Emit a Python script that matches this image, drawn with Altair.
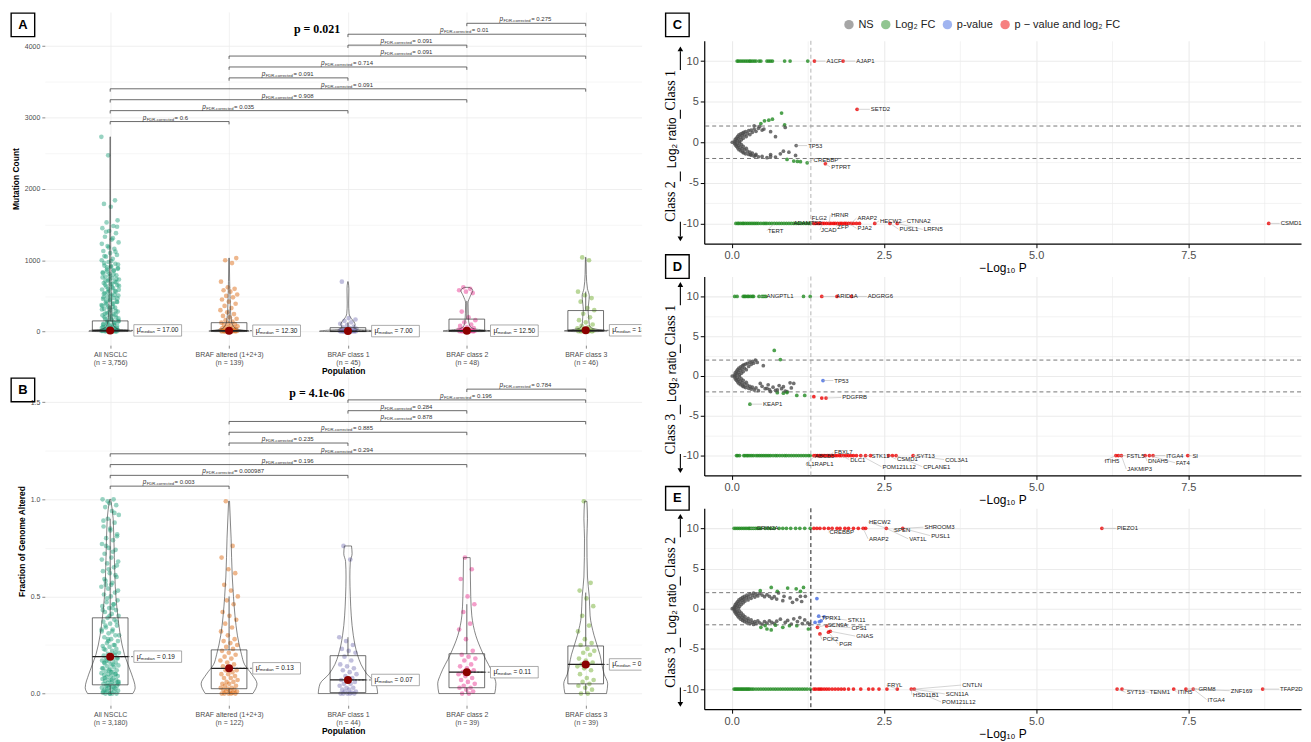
import altair as alt
import pandas as pd

# ======================= shared categories =======================
GROUPS = ["All NSCLC", "BRAF altered (1+2+3)", "BRAF class 1", "BRAF class 2", "BRAF class 3"]
GROUP_COLORS = ["#1B9E77", "#D95F02", "#7570B3", "#E7298A", "#66A61E"]
PAIRS = [(0, 1), (0, 2), (0, 3), (0, 4), (1, 2), (1, 3), (1, 4), (2, 3), (2, 4), (3, 4)]

# ======================= Panel A : mutation count =======================
A_N = ["(n = 3,756)", "(n = 139)", "(n = 45)", "(n = 48)", "(n = 46)"]
A_P = ["0.6", "0.035", "0.908", "0.091", "0.091", "0.714", "0.091", "0.091", "0.01", "0.275"]
A_MED_TXT = ["17.00", "12.30", "7.00", "12.50", "18.50"]
A_Q1 = [3, 2, 1, 2, 4]
A_MED = [17, 12.5, 7, 12.5, 18.5]
A_Q3 = [150, 125, 55, 175, 295]
A_WLO = [0, 0, 0, 0, 0]
A_WHI = [370, 310, 130, 430, 560]
A_ALL = [0, 1, 3, 5, 8, 12, 15, 19, 24, 30, 36, 45, 52, 60, 71, 80, 95, 108, 120, 135, 150, 162, 178,
         195, 210, 228, 245, 260, 280, 300, 318, 335, 350, 372, 390, 405, 420, 440, 458, 470, 490, 505,
         520, 540, 560, 575, 590, 610, 630, 650, 665, 680, 700, 715, 730, 750, 770, 790, 810, 830, 850,
         870, 890, 905, 925, 950, 975, 1000, 1020, 1050, 1075, 1100, 1130, 1160, 1200, 1250, 1290, 1330,
         1380, 1410, 1450, 1480, 1530, 1560, 1750, 1790, 1840, 2470, 2730, 6, 14, 22, 40, 65, 90, 115,
         140, 170, 200, 235, 270, 310, 345, 380, 415, 450, 480, 515, 550, 585, 620, 655, 690, 725, 760,
         800, 840, 880, 920, 960, 2, 4, 10, 18, 28, 50, 75, 100, 125, 155, 185, 220, 250, 290, 325, 360,
         395, 430, 465, 500, 530, 570, 600, 640, 670, 710, 740, 780, 820, 860, 900, 940, 990, 1060, 1120,
         1180, 1230, 1310, 1400, 1470]
A_ALT = [0, 0, 1, 2, 3, 5, 6, 8, 10, 12, 14, 17, 20, 25, 30, 35, 42, 50, 58, 65, 75, 85, 95, 105, 115,
         125, 140, 160, 180, 200, 220, 245, 270, 300, 330, 360, 390, 420, 450, 480, 500, 520, 560, 580,
         600, 620, 700, 960, 1000, 1030]
A_C1 = [0, 0, 1, 2, 3, 4, 5, 6, 7, 8, 9, 10, 12, 14, 16, 18, 20, 25, 30, 35, 40, 50, 60, 70, 90, 110,
        130, 150, 170, 190, 700]
A_C2 = [0, 1, 2, 3, 5, 7, 9, 11, 12.5, 14, 17, 20, 25, 30, 40, 50, 60, 80, 100, 130, 160, 200, 280,
        540, 560, 580, 600, 620]
A_C3 = [0, 1, 2, 4, 6, 9, 12, 15, 18.5, 22, 28, 35, 45, 60, 80, 100, 130, 160, 200, 250, 300, 330, 420,
        470, 510, 560, 1000, 1040]
# violin outlines: [level, half width in group units]
A_VIO = [
    [[0, 0.10], [5, 0.18], [15, 0.17], [30, 0.08], [60, 0.04], [100, 0.025], [200, 0.015], [400, 0.01],
     [700, 0.007], [1000, 0.005], [1500, 0.003], [2000, 0.002], [2730, 0.001]],
    [[0, 0.12], [8, 0.17], [20, 0.12], [40, 0.06], [80, 0.035], [150, 0.02], [300, 0.012], [500, 0.008],
     [700, 0.005], [1030, 0.002]],
    [[0, 0.15], [5, 0.24], [15, 0.2], [30, 0.08], [60, 0.05], [100, 0.06], [140, 0.05], [180, 0.03],
     [250, 0.01], [400, 0.006], [600, 0.008], [700, 0.002]],
    [[0, 0.12], [8, 0.2], [20, 0.15], [40, 0.06], [80, 0.025], [150, 0.015], [250, 0.012], [400, 0.01],
     [500, 0.03], [580, 0.05], [620, 0.02]],
    [[0, 0.1], [10, 0.18], [25, 0.12], [50, 0.05], [100, 0.03], [200, 0.025], [300, 0.02], [400, 0.025],
     [500, 0.03], [600, 0.015], [800, 0.005], [1040, 0.002]],
]

# ======================= Panel B : fraction of genome altered =======================
B_N = ["(n = 3,180)", "(n = 122)", "(n = 44)", "(n = 39)", "(n = 39)"]
B_P = ["0.003", "0.000987", "0.196", "0.294", "0.235", "0.885", "0.878", "0.284", "0.196", "0.784"]
B_MED_TXT = ["0.19", "0.13", "0.07", "0.11", "0.15"]
B_Q1 = [0.045, 0.025, 0.005, 0.03, 0.05]
B_MED = [0.19, 0.13, 0.07, 0.11, 0.15]
B_Q3 = [0.39, 0.225, 0.195, 0.205, 0.245]
B_WLO = [0, 0, 0, 0, 0]
B_WHI = [0.9, 0.5, 0.29, 0.46, 0.52]
B_ALL = [0, 0, 0, 0, 0.005, 0.01, 0.01, 0.015, 0.02, 0.02, 0.025, 0.03, 0.03, 0.035, 0.04, 0.04, 0.045,
         0.05, 0.05, 0.055, 0.06, 0.06, 0.065, 0.07, 0.07, 0.075, 0.08, 0.085, 0.09, 0.09, 0.095, 0.1, 0.1,
         0.105, 0.11, 0.115, 0.12, 0.125, 0.13, 0.135, 0.14, 0.145, 0.15, 0.155, 0.16, 0.165, 0.17, 0.175,
         0.18, 0.185, 0.19, 0.195, 0.2, 0.205, 0.21, 0.22, 0.225, 0.23, 0.24, 0.245, 0.25, 0.26, 0.27, 0.28,
         0.29, 0.3, 0.31, 0.32, 0.33, 0.34, 0.35, 0.36, 0.37, 0.38, 0.39, 0.4, 0.41, 0.42, 0.43, 0.44, 0.45,
         0.46, 0.47, 0.48, 0.5, 0.51, 0.52, 0.54, 0.55, 0.57, 0.58, 0.6, 0.62, 0.63, 0.65, 0.67, 0.68, 0.7,
         0.72, 0.74, 0.75, 0.77, 0.79, 0.8, 0.82, 0.84, 0.86, 0.88, 0.9, 0.92, 0.94, 0.96, 0.97, 0.98, 1.0,
         1.0, 0.02, 0.06, 0.11, 0.16, 0.21, 0.27, 0.33, 0.44, 0.56, 0.66, 0.0, 0.01, 0.03, 0.04, 0.05,
         0.07, 0.08, 0.1, 0.12, 0.13, 0.15, 0.17, 0.18, 0.2, 0.23, 0.25, 0.28, 0.3, 0.32, 0.35, 0.37, 0.4,
         0.43, 0.46, 0.49, 0.53, 0.56, 0.59, 0.61, 0.64, 0.69, 0.73, 0.76, 0.81, 0.85, 0.89, 0.93, 0.99]
B_ALT = [0, 0, 0, 0, 0, 0.005, 0.01, 0.01, 0.015, 0.02, 0.02, 0.025, 0.03, 0.03, 0.04, 0.04, 0.05, 0.05,
         0.06, 0.06, 0.07, 0.08, 0.08, 0.09, 0.1, 0.1, 0.11, 0.12, 0.12, 0.13, 0.14, 0.15, 0.16, 0.17, 0.18,
         0.19, 0.2, 0.21, 0.22, 0.23, 0.24, 0.25, 0.26, 0.27, 0.28, 0.3, 0.32, 0.34, 0.36, 0.38, 0.4, 0.42,
         0.46, 0.48, 0.5, 0.53, 0.56, 0.62, 0.64, 0.7, 0.76, 0.99]
B_C1 = [0, 0, 0, 0, 0, 0.005, 0.01, 0.01, 0.02, 0.02, 0.03, 0.03, 0.04, 0.05, 0.05, 0.06, 0.07, 0.07,
        0.08, 0.09, 0.1, 0.11, 0.12, 0.13, 0.14, 0.15, 0.17, 0.19, 0.21, 0.22, 0.23, 0.25, 0.27, 0.29,
        0.69, 0.76]
B_C2 = [0, 0, 0.01, 0.02, 0.03, 0.03, 0.04, 0.05, 0.06, 0.07, 0.08, 0.09, 0.1, 0.11, 0.11, 0.12, 0.13,
        0.14, 0.15, 0.17, 0.18, 0.19, 0.2, 0.22, 0.28, 0.33, 0.36, 0.42, 0.46, 0.5, 0.59, 0.64, 0.7]
B_C3 = [0, 0, 0.02, 0.03, 0.04, 0.05, 0.06, 0.07, 0.08, 0.1, 0.12, 0.13, 0.14, 0.15, 0.15, 0.16, 0.17,
        0.18, 0.2, 0.21, 0.22, 0.23, 0.25, 0.26, 0.28, 0.32, 0.35, 0.4, 0.45, 0.49, 0.53, 0.57, 0.99]
B_VIO = [
    [[0, 0.19], [0.03, 0.21], [0.1, 0.18], [0.2, 0.12], [0.3, 0.085], [0.4, 0.064], [0.5, 0.048],
     [0.7, 0.035], [0.9, 0.025], [1.0, 0.004]],
    [[0, 0.2], [0.05, 0.235], [0.1, 0.19], [0.15, 0.13], [0.2, 0.105], [0.3, 0.07], [0.4, 0.05],
     [0.5, 0.037], [0.6, 0.027], [0.8, 0.017], [0.99, 0.004]],
    [[0, 0.25], [0.05, 0.235], [0.1, 0.16], [0.15, 0.11], [0.2, 0.08], [0.3, 0.045], [0.4, 0.028],
     [0.5, 0.02], [0.6, 0.016], [0.68, 0.02], [0.72, 0.035], [0.76, 0.03]],
    [[0, 0.235], [0.05, 0.245], [0.1, 0.22], [0.2, 0.14], [0.3, 0.075], [0.4, 0.042], [0.5, 0.033],
     [0.6, 0.03], [0.7, 0.028]],
    [[0, 0.175], [0.05, 0.185], [0.1, 0.155], [0.2, 0.12], [0.3, 0.07], [0.4, 0.037], [0.5, 0.03],
     [0.6, 0.015], [0.8, 0.01], [0.9, 0.015], [0.99, 0.01]],
]

# ======================= Panels C, D, E : volcano =======================
CATS = ["NS", "Log\u2082 FC", "p-value", "p \u2212 value and log\u2082 FC"]
CAT_COLORS = ["#4D4D4D", "#228B22", "#4169E1", "#EE0000"]
FC_CUT = [-2, 2]
P_CUT = [1.30103]

C_NS = [[0.01, 0.0], [0.05, 0.12], [0.05, -0.15], [0.06, 0.35], [0.06, -0.32], [0.07, 0.02], [0.08, 0.52],
        [0.08, -0.5], [0.09, 0.2], [0.09, -0.22], [0.10, 0.72], [0.10, -0.7], [0.11, 0.42], [0.11, -0.4],
        [0.12, 0.9], [0.12, -0.92], [0.13, 0.1], [0.13, -0.08], [0.14, 0.62], [0.14, -0.6], [0.15, 1.02],
        [0.15, -1.05], [0.16, 0.3], [0.16, -0.3], [0.17, 0.82], [0.17, -0.8], [0.18, 1.12], [0.18, -1.2],
        [0.19, 0.5], [0.19, -0.52], [0.20, 1.22], [0.20, -1.32], [0.21, 0.9], [0.21, -0.92], [0.23, 1.32],
        [0.23, -1.42], [0.24, 0.7], [0.24, -0.75], [0.26, 1.05], [0.26, -1.1], [0.28, 1.42], [0.28, -1.5],
        [0.30, 0.95], [0.30, -1.22], [0.32, 1.5], [0.32, -1.6], [0.34, 1.22], [0.34, -1.35], [0.37, 1.62],
        [0.37, -1.72], [0.40, 1.35], [0.40, -1.5], [0.44, 1.72], [0.44, -1.8], [0.50, 1.5], [0.50, -1.75],
        [0.53, 1.62], [0.64, 1.3], [0.72, 0.69], [0.31, -1.51], [0.39, -1.63], [0.64, -1.51], [0.80, -1.43],
        [0.85, -1.1], [0.94, -1.22], [0.64, -1.75], [0.72, -1.83], [1.05, -1.63], [0.37, 2.03], [0.88, 1.82],
        [1.06, -0.41], [0.58, -1.9], [0.46, 1.95]]
C_FC_TOP = [0.09, 0.11, 0.14, 0.17, 0.2, 0.23, 0.26, 0.29, 0.31, 0.34, 0.37, 0.4, 0.45, 0.48, 0.58, 0.61,
            0.64, 0.67, 0.87, 0.96, 1.25]
C_FC_MID = [[0.82, 3.6], [0.48, 2.31], [0.54, 2.64], [0.61, 2.72], [0.67, 2.84], [0.87, 2.15], [0.91, -2.12],
            [1.02, -2.32], [1.08, -2.36], [1.13, -2.4], [1.24, -2.53]]
C_FC_BOT = [0.07, 0.1, 0.12, 0.15, 0.18, 0.2, 0.23, 0.26, 0.29, 0.32, 0.35, 0.38, 0.41, 0.44, 0.48, 0.52,
            0.55, 0.58, 0.62, 0.66, 0.7, 0.74, 0.78, 0.82, 0.86, 0.9, 0.94, 0.98, 1.02, 1.06, 1.1, 1.14,
            1.18, 1.22, 1.26, 1.29]
C_PV = []
C_BOTH_TOP = [1.36, 1.83]
C_BOTH_MID = [[2.06, 4.06], [1.54, -2.65]]
C_BOTH_BOT = [1.35, 1.38, 1.42, 1.45, 1.49, 1.52, 1.56, 1.6, 1.63, 1.67, 1.7, 1.74, 1.78, 1.81, 1.85, 1.88,
              1.92, 1.96, 2.0, 2.05, 2.1, 2.35, 2.6, 2.72, 8.82]
C_LABELS = [("A1CF", 1.36, 10, 1.54, 10), ("AJAP1", 1.83, 10, 2.03, 10), ("SETD2", 2.06, 4.06, 2.27, 4.06),
            ("TP53", 1.06, -0.41, 1.24, -0.41), ("CREBBP", 1.24, -2.53, 1.33, -2.15),
            ("PTPRT", 1.54, -2.65, 1.62, -3.05), ("TERT", 0.7, -10, 0.58, -10.9),
            ("ADAMTS2", 0.98, -10, 1.0, -10), ("FLG2", 1.38, -10, 1.3, -9.35), ("HRNR", 1.6, -10, 1.62, -8.95),
            ("JCAD", 1.49, -10, 1.45, -10.8), ("ZFP", 1.74, -10, 1.72, -10.4), ("ARAP2", 1.96, -10, 2.05, -9.35),
            ("PJA2", 1.92, -10, 2.05, -10.6), ("HECW2", 2.35, -10, 2.42, -9.7),
            ("CTNNA2", 2.72, -10, 2.86, -9.75), ("PUSL1", 2.6, -10, 2.74, -10.7),
            ("LRFN5", 2.72, -10, 3.14, -10.75), ("CSMD1", 8.82, -10, 9.0, -10)]

D_NS = [[0.01, 0.0], [0.05, 0.15], [0.05, -0.12], [0.06, 0.4], [0.06, -0.35], [0.07, 0.05], [0.08, 0.6],
        [0.08, -0.55], [0.09, 0.25], [0.09, -0.25], [0.10, 0.8], [0.10, -0.75], [0.11, 0.45], [0.11, -0.45],
        [0.12, 1.0], [0.12, -0.95], [0.13, 0.15], [0.13, -0.1], [0.14, 0.7], [0.14, -0.65], [0.15, 1.15],
        [0.15, -1.1], [0.16, 0.35], [0.16, -0.35], [0.17, 0.9], [0.17, -0.85], [0.18, 1.3], [0.18, -1.25],
        [0.19, 0.55], [0.19, -0.55], [0.20, 1.4], [0.20, -1.35], [0.21, 1.0], [0.21, -1.0], [0.23, 1.5],
        [0.23, -1.45], [0.24, 0.8], [0.24, -0.8], [0.26, 1.6], [0.26, -1.15], [0.28, 1.2], [0.28, -1.55],
        [0.30, 1.75], [0.30, -1.3], [0.32, 1.45], [0.32, -1.65], [0.34, 1.85], [0.34, -1.4], [0.36, 1.6],
        [0.37, -1.75], [0.39, 2.0], [0.40, -1.5], [0.42, 1.7], [0.44, -1.85], [0.47, -0.94], [0.50, -1.3],
        [0.55, -1.6], [0.58, -1.55], [0.62, -1.7], [0.64, -1.96], [0.68, -1.4], [0.72, -1.8], [0.75, -1.75],
        [0.78, -1.2], [0.82, -1.6], [0.85, -1.35], [0.88, -1.9], [0.91, -1.96], [0.96, -0.86], [1.02, -0.94],
        [0.98, -1.5], [0.6, -1.1], [0.52, 1.3]]
D_FC_TOP = [0.05, 0.09, 0.19, 0.21, 0.23, 0.26, 0.28, 0.31, 0.34, 0.36, 0.45, 0.5, 0.53, 0.56, 1.18, 1.29]
D_FC_MID = [[0.70, 3.21], [0.80, 2.07], [1.07, -2.44], [1.2, -2.44], [0.91, -2.08], [0.85, -2.16],
            [0.30, -3.54], [0.75, -2.1]]
D_FC_BOT = [0.08, 0.1, 0.13, 0.2, 0.22, 0.25, 0.27, 0.3, 0.33, 0.36, 0.4, 0.43, 0.46, 0.49, 0.52, 0.55,
            0.58, 0.61, 0.64, 0.68, 0.72, 0.75, 0.79, 0.83, 0.87, 0.9, 0.94, 0.98, 1.02, 1.06, 1.1, 1.14,
            1.18, 1.22, 1.26, 1.29]
D_PV = [[1.5, -0.57]]
D_BOTH_TOP = [1.48, 1.73, 1.97]
D_BOTH_MID = [[1.35, -2.6], [1.48, -2.77], [1.55, -2.77]]
D_BOTH_BOT = [1.35, 1.38, 1.41, 1.44, 1.47, 1.5, 1.53, 1.57, 1.6, 1.63, 1.66, 1.7, 1.73, 1.77, 1.8, 1.84,
              1.88, 1.92, 1.96, 2.0, 2.05, 2.12, 2.2, 2.28, 2.58, 2.64, 2.7, 2.98, 6.31, 6.35, 6.4, 6.79,
              6.86, 6.92, 7.49]
D_LABELS = [("ANGPTL1", 0.45, 10, 0.555, 10), ("ARID1A", 1.48, 10, 1.7, 10), ("ADGRG6", 1.97, 10, 2.22, 10),
            ("TP53", 1.5, -0.57, 1.67, -0.57), ("PDGFRB", 1.55, -2.77, 1.8, -2.7),
            ("KEAP1", 0.3, -3.54, 0.5, -3.54), ("IL1RAPL1", 1.38, -10, 1.21, -11.1),
            ("ABCB5", 1.36, -10, 1.35, -10.0), ("FBXL7", 1.6, -10, 1.67, -9.6), ("DLC1", 1.8, -10, 1.93, -10.5),
            ("STK11", 2.2, -10, 2.28, -10.0), ("POM121L12", 2.12, -10, 2.46, -11.4),
            ("CSMD1", 2.58, -10, 2.7, -10.45), ("SYT13", 2.98, -10, 3.02, -10.0),
            ("CPLANE1", 2.7, -10, 3.13, -11.4), ("COL3A1", 2.98, -10, 3.49, -10.5),
            ("ITIH5", 6.31, -10, 6.11, -10.7), ("FSTL5", 6.35, -10, 6.47, -10.0),
            ("JAKMIP3", 6.4, -10, 6.48, -11.7), ("DNAH5", 6.79, -10, 6.82, -10.7),
            ("ITGA4", 6.92, -10, 7.12, -10.0), ("FAT4", 6.86, -10, 7.28, -10.9), ("SI", 7.49, -10, 7.55, -10.0)]

E_NS = [[0.01, 0.0], [0.04, 0.1], [0.04, -0.1], [0.05, 0.3], [0.05, -0.3], [0.06, 0.5], [0.06, -0.5],
        [0.07, 0.15], [0.07, -0.2], [0.08, 0.7], [0.08, -0.7], [0.09, 0.4], [0.09, -0.4], [0.10, 0.9],
        [0.10, -0.9], [0.11, 0.05], [0.11, 0.6], [0.11, -0.6], [0.12, 1.1], [0.12, -1.1], [0.13, 0.3],
        [0.13, -0.3], [0.14, 0.85], [0.14, -0.85], [0.15, 1.25], [0.15, -1.3], [0.16, 0.55], [0.16, -0.55],
        [0.17, 1.05], [0.17, -1.05], [0.18, 1.4], [0.18, -1.45], [0.19, 0.75], [0.19, -0.8], [0.20, 1.2],
        [0.20, -1.25], [0.21, 1.55], [0.21, -1.6], [0.22, 0.95], [0.22, -1.0], [0.24, 1.35], [0.24, -1.4],
        [0.25, 1.7], [0.25, -1.75], [0.27, 1.1], [0.27, -1.2], [0.28, 1.5], [0.28, -1.55], [0.30, 1.85],
        [0.30, -1.85], [0.32, 1.3], [0.32, -1.4], [0.34, 1.65], [0.34, -1.7], [0.36, 1.95], [0.36, -1.95],
        [0.38, 1.45], [0.38, -1.6], [0.40, 1.8], [0.40, -1.85], [0.43, 1.6], [0.43, -1.5], [0.46, 1.9],
        [0.46, -1.75], [0.50, 1.7], [0.50, -1.9], [0.54, 1.5], [0.54, -1.6], [0.58, 1.75], [0.58, -1.8],
        [0.62, 1.55], [0.62, -1.5], [0.66, 1.3], [0.66, -1.7], [0.70, 1.5], [0.70, -1.85], [0.74, 1.2],
        [0.74, -1.55], [0.77, 1.96], [0.8, -1.3], [0.84, 1.0], [0.86, 1.55], [0.88, -1.7], [0.92, -1.45],
        [0.96, 1.35], [0.98, -1.9], [1.0, 0.8], [1.02, -1.25], [1.07, 1.14], [1.08, -1.6], [1.12, -1.1],
        [1.13, 1.55], [1.16, -1.85], [1.2, -1.4], [1.21, 1.55], [1.25, -1.75], [1.28, -1.95], [1.15, 0.9]]
E_FC_TOP = [0.04, 0.07, 0.1, 0.13, 0.16, 0.19, 0.22, 0.25, 0.28, 0.3, 0.33, 0.36, 0.39, 0.42, 0.45, 0.48,
            0.55, 0.6, 0.64, 0.7, 0.78, 0.84, 0.9, 0.97, 1.05, 1.12, 1.2, 1.29]
E_FC_MID = [[0.47, 2.24], [0.65, 2.65], [0.75, 2.16], [0.92, 2.57], [1.06, 2.48], [1.18, 2.65], [1.13, 2.16],
            [0.48, -2.31], [0.58, -2.52], [0.65, -2.64], [0.84, -2.31], [1.07, -2.11], [1.26, -2.52],
            [0.95, -2.11], [0.72, -2.05], [0.55, -2.1]]
E_FC_BOT = [0.04, 0.06, 0.08, 0.1, 0.12, 0.14, 0.16, 0.18, 0.2, 0.22, 0.24, 0.26, 0.28, 0.3, 0.33, 0.36,
            0.4, 0.44, 0.48, 0.52, 0.56, 0.6, 0.64, 0.68, 0.72, 0.76, 0.8, 0.84, 0.88, 0.92, 0.96, 1.0, 1.04,
            1.08, 1.12, 1.16, 1.2, 1.24, 1.29]
E_PV = [[1.40, 1.26], [1.43, -0.93], [1.52, -1.01], [1.47, -1.5], [1.37, -1.7], [1.44, -1.62]]
E_BOTH_TOP = [1.35, 1.40, 1.45, 1.52, 1.59, 1.65, 1.73, 1.78, 1.86, 1.92, 2.0, 2.08, 2.16, 2.2, 2.54, 2.81,
              6.08]
E_BOTH_MID = [[1.41, -2.31], [1.56, -2.15], [1.45, -3.13], [1.59, -2.92], [1.62, -2.8]]
E_BOTH_BOT = [1.35, 1.38, 1.42, 1.45, 1.48, 1.52, 1.56, 1.6, 1.65, 1.7, 1.75, 1.8, 1.85, 1.92, 2.0, 2.12,
              2.25, 2.32, 2.42, 2.55, 2.72, 2.95, 3.0, 6.33, 6.41, 7.26, 7.46, 7.58, 8.72]
E_LABELS = [("GRIN2A", 0.3, 10, 0.39, 10), ("CREBBP", 1.65, 10, 1.59, 9.5), ("HECW2", 2.54, 10, 2.24, 10.8),
            ("ARAP2", 2.16, 10, 2.24, 8.7), ("SPEN", 2.81, 10, 2.65, 9.8), ("SHROOM3", 2.81, 10, 3.15, 10.15),
            ("VAT1L", 2.54, 10, 2.9, 8.7), ("PUSL1", 2.81, 10, 3.26, 9.1), ("PIEZO1", 6.08, 10, 6.31, 10),
            ("TPRX1", 1.43, -0.93, 1.46, -1.2), ("STK11", 1.52, -1.01, 1.89, -1.42),
            ("SCN9A", 1.41, -2.31, 1.56, -2.0), ("CPS1", 1.56, -2.15, 1.95, -2.35),
            ("PCK2", 1.45, -3.13, 1.48, -3.8), ("PGR", 1.59, -2.92, 1.75, -4.4),
            ("GNAS", 1.62, -2.8, 2.03, -3.4), ("FRYL", 2.72, -10, 2.54, -9.5),
            ("HSD11B1", 2.95, -10, 2.96, -10.7), ("SCN11A", 3.0, -10, 3.5, -10.6),
            ("POM121L12", 2.95, -10, 3.44, -11.6), ("CNTLN", 3.0, -10, 3.77, -9.5),
            ("SYT13", 6.33, -10, 6.47, -10.4), ("TENM1", 6.41, -10, 6.85, -10.4),
            ("ITIH5", 7.26, -10, 7.31, -10.4), ("GRM8", 7.46, -10, 7.65, -9.95),
            ("ITGA4", 7.58, -10, 7.8, -11.3), ("ZNF169", 7.58, -10, 8.18, -10.2),
            ("TFAP2D", 8.72, -10, 8.99, -10.0)]

SANS = "Liberation Sans"
SERIF = "Liberation Serif"
RECT_PATH = "M-1,-0.24L1,-0.24L1,0.24L-1,0.24Z"


def letter_box(letter, bx, by):
    ldf = pd.DataFrame({"t": [letter]})
    sq = alt.Chart(ldf).mark_point(shape="square", size=560, filled=False, stroke="black",
                                   strokeWidth=1.4, opacity=1).encode(x=alt.value(bx), y=alt.value(by))
    tx = alt.Chart(ldf).mark_text(fontWeight="bold", fontSize=13, font=SANS, color="black",
                                  baseline="middle").encode(x=alt.value(bx), y=alt.value(by), text="t:N")
    return [sq, tx]


def left_panel(values, violins, q1, med, q3, wlo, whi, med_txt, pvals, n_labels, ydom, yvals, ymajor,
               yfmt, ytitle, base, step, tip, ptitle, ptitle_y, letter, h):
    xs = alt.Scale(domain=[-0.55, 4.47], nice=False, zero=False)
    ys = alt.Scale(domain=ydom, nice=False, zero=False)
    lab_arr = "[" + ",".join("'%s|%s'" % (g, n) for g, n in zip(GROUPS, n_labels)) + "]"
    xaxis = alt.Axis(values=[0, 1, 2, 3, 4], labelExpr="split(%s[datum.value], '|')" % lab_arr,
                     labelFontSize=7, labelColor="#4D4D4D", labelLineHeight=8, labelFont=SANS,
                     tickSize=3, tickColor="#888", domain=False, grid=True, gridColor="#EBEBEB",
                     gridWidth=0.7, labelPadding=2, titleFontSize=8.5, titleFontWeight="bold",
                     titleFont=SANS, titlePadding=1, titleColor="black")
    minor_test = "abs(datum.value %% %s) > 1e-9" % ymajor
    yaxis = alt.Axis(values=yvals,
                     labelExpr="abs(datum.value %% %s) < 1e-9 ? format(datum.value, '%s') : ''" % (ymajor, yfmt),
                     labelFontSize=7, labelColor="#4D4D4D", labelFont=SANS, tickSize=3, tickColor="#888",
                     tickOpacity={"condition": {"test": minor_test, "value": 0}, "value": 1},
                     gridWidth={"condition": {"test": minor_test, "value": 0.4}, "value": 0.8},
                     domain=False, grid=True, gridColor="#EBEBEB", labelPadding=2,
                     titleFontSize=8.5, titleFontWeight="bold", titleFont=SANS, titlePadding=4,
                     titleColor="black")

    def X(f):
        return alt.X(f, scale=xs, axis=xaxis, title="Population")

    def Y(f):
        return alt.Y(f, scale=ys, axis=yaxis, title=ytitle)

    rows = [{"g": i, "v": v} for i, lst in enumerate(values) for v in lst]
    pts = alt.Chart(pd.DataFrame(rows)).transform_window(
        rn="row_number()", groupby=["g"]
    ).transform_calculate(
        xj="datum.g + ((datum.rn * 0.6180339887) % 1 - 0.5) * 0.15"
    ).mark_circle(size=22, opacity=0.45).encode(
        x=X("xj:Q"), y=Y("v:Q"),
        color=alt.Color("g:N", scale=alt.Scale(domain=[0, 1, 2, 3, 4], range=GROUP_COLORS), legend=None))

    vrows = [{"g": i, "lev": lv, "hw": hw} for i, prof in enumerate(violins) for lv, hw in prof]
    vio = alt.Chart(pd.DataFrame(vrows)).transform_calculate(
        xl="datum.g - datum.hw", xr="datum.g + datum.hw"
    ).mark_area(orient="horizontal", interpolate="monotone", fillOpacity=0, stroke="#333",
                strokeWidth=0.6).encode(y=Y("lev:Q"), x=X("xl:Q"), x2="xr:Q", detail="g:N")

    bdf = pd.DataFrame({"g": list(range(5)), "q1": q1, "med": med, "q3": q3, "wlo": wlo, "whi": whi,
                        "t3": ["= " + t for t in med_txt]})
    bb = alt.Chart(bdf).transform_calculate(bl="datum.g - 0.15", br="datum.g + 0.15",
                                            cx="datum.g + 0.2", lx="datum.g + 0.4")
    box = bb.mark_rect(fillOpacity=0, stroke="#333", strokeWidth=0.7).encode(
        x=X("bl:Q"), x2="br:Q", y=Y("q1:Q"), y2="q3:Q")
    wh1 = bb.mark_rule(color="#333", strokeWidth=0.7).encode(x=X("g:Q"), y=Y("q3:Q"), y2="whi:Q")
    wh2 = bb.mark_rule(color="#333", strokeWidth=0.7).encode(x=X("g:Q"), y=Y("wlo:Q"), y2="q1:Q")
    medl = bb.mark_rule(color="#222", strokeWidth=1.3).encode(x=X("bl:Q"), x2="br:Q", y=Y("med:Q"))
    dash = bb.mark_rule(color="#222", strokeWidth=0.7, strokeDash=[2, 1.5]).encode(
        x=X("g:Q"), x2="cx:Q", y=Y("med:Q"))
    dot = bb.mark_circle(size=65, color="#8B0000", opacity=1).encode(x=X("g:Q"), y=Y("med:Q"))
    lbox = bb.mark_point(shape=RECT_PATH, size=2304, filled=True, fill="white", stroke="#888",
                         strokeWidth=0.7, opacity=1, clip=True).encode(x=X("lx:Q"), y=Y("med:Q"))
    lt1 = bb.mark_text(text="\u03bc\u0302", align="left", baseline="middle", dx=-21, fontSize=7,
                       font=SANS, color="#222", clip=True).encode(x=X("lx:Q"), y=Y("med:Q"))
    lt2 = bb.mark_text(text="median", align="left", baseline="middle", dx=-17, dy=2, fontSize=4.3,
                       font=SANS, color="#222", clip=True).encode(x=X("lx:Q"), y=Y("med:Q"))
    lt3 = bb.mark_text(align="left", baseline="middle", dx=-1, fontSize=6.5, font=SANS, color="#222",
                       clip=True).encode(x=X("lx:Q"), y=Y("med:Q"), text="t3:N")

    brows = [{"g1": a, "g2": b, "gm": (a + b) / 2.0, "k": k, "pv": "= " + p}
             for k, ((a, b), p) in enumerate(zip(PAIRS, pvals))]
    br = alt.Chart(pd.DataFrame(brows)).transform_calculate(
        yb="%s + datum.k * %s" % (base, step), yt="%s + datum.k * %s - %s" % (base, step, tip))
    hl = br.mark_rule(color="#444", strokeWidth=0.8).encode(x=X("g1:Q"), x2="g2:Q", y=Y("yb:Q"))
    tl = br.mark_rule(color="#444", strokeWidth=0.8).encode(x=X("g1:Q"), y=Y("yb:Q"), y2="yt:Q")
    tr = br.mark_rule(color="#444", strokeWidth=0.8).encode(x=X("g2:Q"), y=Y("yb:Q"), y2="yt:Q")
    p1 = br.mark_text(text="p", fontStyle="italic", align="left", baseline="bottom", dx=-27, dy=-1,
                      fontSize=6.5, font=SANS, color="#333").encode(x=X("gm:Q"), y=Y("yb:Q"))
    p2 = br.mark_text(text="FDR-corrected", align="left", baseline="bottom", dx=-23, dy=0,
                      fontSize=4.2, font=SANS, color="#333").encode(x=X("gm:Q"), y=Y("yb:Q"))
    p3 = br.mark_text(align="left", baseline="bottom", dx=5, dy=-1, fontSize=6, font=SANS,
                      color="#333").encode(x=X("gm:Q"), y=Y("yb:Q"), text="pv:N")

    ttl = alt.Chart(pd.DataFrame({"x": [1.74], "y": [ptitle_y], "t": [ptitle]})).mark_text(
        font=SERIF, fontWeight="bold", fontSize=12, color="black").encode(
        x=X("x:Q"), y=Y("y:Q"), text="t:N")

    return alt.layer(pts, vio, box, wh1, wh2, medl, dash, dot, lbox, lt1, lt2, lt3,
                     hl, tl, tr, p1, p2, p3, ttl, *letter_box(letter, -22, 13)).properties(width=600, height=h)


def expand(ns, fc_top, fc_mid, fc_bot, pv, b_top, b_mid, b_bot):
    pts = {
        CATS[0]: ns,
        CATS[1]: [[x, 10] for x in fc_top] + fc_mid + [[x, -10] for x in fc_bot],
        CATS[2]: pv,
        CATS[3]: [[x, 10] for x in b_top] + b_mid + [[x, -10] for x in b_bot],
    }
    return [{"x": x, "y": y, "cat": c} for c, lst in pts.items() for x, y in lst]


def volcano(rows, labels, cls, letter, vcolor, h, box_y):
    xs = alt.Scale(domain=[-0.45, 9.35], nice=False, zero=False)
    ys = alt.Scale(domain=[-12.5, 12.5], nice=False, zero=False)
    xminor = "abs(datum.value % 2.5) > 1e-9"
    yminor = "abs(datum.value % 5) > 1e-9"
    xaxis = alt.Axis(values=[0, 1.25, 2.5, 3.75, 5, 6.25, 7.5, 8.75],
                     labelExpr="abs(datum.value % 2.5) < 1e-9 ? format(datum.value, '.1f') : ''",
                     tickOpacity={"condition": {"test": xminor, "value": 0}, "value": 1},
                     gridWidth={"condition": {"test": xminor, "value": 0.6}, "value": 1.1},
                     gridColor="#EBEBEB", domainColor="black", domainWidth=1.2, tickColor="black",
                     tickSize=4, labelColor="#4D4D4D", labelFontSize=11, labelFont=SANS, labelPadding=2,
                     titleFontSize=12, titleFontWeight="normal", titleFont=SANS, titlePadding=2,
                     titleColor="black")
    yaxis = alt.Axis(values=[-10, -7.5, -5, -2.5, 0, 2.5, 5, 7.5, 10],
                     labelExpr="abs(datum.value % 5) < 1e-9 ? '' + datum.value : ''",
                     tickOpacity={"condition": {"test": yminor, "value": 0}, "value": 1},
                     gridWidth={"condition": {"test": yminor, "value": 0.6}, "value": 1.1},
                     gridColor="#EBEBEB", domainColor="black", domainWidth=1.2, tickColor="black",
                     tickSize=4, labelColor="#4D4D4D", labelFontSize=11, labelFont=SANS, labelPadding=2,
                     titleFontSize=12, titleFontWeight="normal", titleFont=SANS, titlePadding=4,
                     titleColor="black")

    def VX(f):
        return alt.X(f, scale=xs, axis=xaxis, title="\u2212Log\u2081\u2080 P")

    def VY(f):
        return alt.Y(f, scale=ys, axis=yaxis, title="Log\u2082 ratio")

    hl = alt.Chart(pd.DataFrame({"y": FC_CUT})).mark_rule(
        strokeDash=[4, 3], color="#555", strokeWidth=0.8).encode(y=VY("y:Q"))
    vl = alt.Chart(pd.DataFrame({"x": P_CUT})).mark_rule(
        strokeDash=[4, 3], color=vcolor, strokeWidth=0.9).encode(x=VX("x:Q"))
    dots = alt.Chart(pd.DataFrame(rows)).mark_circle(size=14, opacity=0.8).encode(
        x=VX("x:Q"), y=VY("y:Q"),
        color=alt.Color("cat:N", scale=alt.Scale(domain=CATS, range=CAT_COLORS), legend=None))
    ldf = pd.DataFrame(labels, columns=["gene", "px", "py", "lx", "ly"])
    seg = alt.Chart(ldf).mark_rule(color="#AAAAAA", strokeWidth=0.5).encode(
        x=VX("px:Q"), y=VY("py:Q"), x2="lx:Q", y2="ly:Q")
    txt = alt.Chart(ldf).mark_text(align="left", baseline="middle", dx=1, fontSize=6, font=SANS,
                                   color="#222").encode(x=VX("lx:Q"), y=VY("ly:Q"), text="gene:N")
    cdf = pd.DataFrame({"t": cls, "y": [6.4, -7.3]})
    ctext = alt.Chart(cdf).mark_text(angle=270, font=SERIF, fontSize=14, align="center",
                                     baseline="middle", color="black").encode(
        x=alt.value(-33), y=VY("y:Q"), text="t:N")
    adf = pd.DataFrame({"y1": [8.9, 2.9, -3.6, -9.8], "y2": [11.2, 4.0, -4.8, -11.6]})
    shaft = alt.Chart(adf).mark_rule(color="black", strokeWidth=1.1).encode(
        x=alt.value(-24), y=VY("y1:Q"), y2="y2:Q")
    hup = alt.Chart(pd.DataFrame({"y": [11.5]})).mark_point(
        shape="triangle-up", filled=True, color="black", size=32, opacity=1).encode(
        x=alt.value(-24), y=VY("y:Q"))
    hdn = alt.Chart(pd.DataFrame({"y": [-11.9]})).mark_point(
        shape="triangle-down", filled=True, color="black", size=32, opacity=1).encode(
        x=alt.value(-24), y=VY("y:Q"))
    layers = [dots, hl, vl, seg, txt, ctext, shaft, hup, hdn]
    if letter:
        layers += letter_box(letter, -27, box_y)
    return alt.layer(*layers).properties(width=600, height=h)


panel_a = left_panel([A_ALL, A_ALT, A_C1, A_C2, A_C3], A_VIO, A_Q1, A_MED, A_Q3, A_WLO, A_WHI, A_MED_TXT,
                     A_P, A_N, [-190, 4480], [0, 500, 1000, 1500, 2000, 2500, 3000, 3500, 4000], 1000, "d",
                     "Mutation Count", 2944, 153, 40, "p = 0.021", 4240, "A", 335)
panel_b = left_panel([B_ALL, B_ALT, B_C1, B_C2, B_C3], B_VIO, B_Q1, B_MED, B_Q3, B_WLO, B_WHI, B_MED_TXT,
                     B_P, B_N, [-0.06, 1.63], [0, 0.25, 0.5, 0.75, 1.0, 1.25, 1.5], 0.5, ".1f",
                     "Fraction of Genome Altered", 1.068, 0.0555, 0.015, "p = 4.1e-06", 1.55, "B", 330)

# header strip above panel C: legend + panel letter
legend_c = alt.Legend(orient="none", legendX=140, legendY=7, direction="horizontal", title=None,
                      symbolType="circle", symbolSize=90, symbolOpacity=0.5, symbolStrokeWidth=0,
                      labelFontSize=11, labelFont=SANS, labelColor="#222", columnPadding=6)
header = alt.layer(
    alt.Chart(pd.DataFrame({"cat": CATS})).mark_circle(opacity=0, size=20).encode(
        color=alt.Color("cat:N", scale=alt.Scale(domain=CATS, range=CAT_COLORS), legend=legend_c)),
    *letter_box("C", -27, 13)
).properties(width=600, height=12)

panel_c = volcano(expand(C_NS, C_FC_TOP, C_FC_MID, C_FC_BOT, C_PV, C_BOTH_TOP, C_BOTH_MID, C_BOTH_BOT),
                  C_LABELS, ["Class 1", "Class 2"], None, "#AAAAAA", 204, 0)
panel_d = volcano(expand(D_NS, D_FC_TOP, D_FC_MID, D_FC_BOT, D_PV, D_BOTH_TOP, D_BOTH_MID, D_BOTH_BOT),
                  D_LABELS, ["Class 1", "Class 3"], "D", "#AAAAAA", 200, -10)
panel_e = volcano(expand(E_NS, E_FC_TOP, E_FC_MID, E_FC_BOT, E_PV, E_BOTH_TOP, E_BOTH_MID, E_BOTH_BOT),
                  E_LABELS, ["Class 2", "Class 3"], "E", "black", 202, -10)

left = alt.vconcat(panel_a, panel_b, spacing=0).resolve_scale(x="independent", y="independent")
volc = alt.vconcat(panel_c, panel_d, panel_e, spacing=-22).resolve_scale(
    x="independent", y="independent", color="independent")
right = alt.vconcat(header, volc, spacing=0).resolve_scale(color="independent")

chart = alt.hconcat(left, right, spacing=21).resolve_scale(
    x="independent", y="independent", color="independent"
).properties(padding={"left": 0, "top": 0, "right": 0, "bottom": 0}
).configure(font=SANS).configure_view(strokeWidth=0)

chart.save("out.html", embed_options={"renderer": "svg", "actions": False})
